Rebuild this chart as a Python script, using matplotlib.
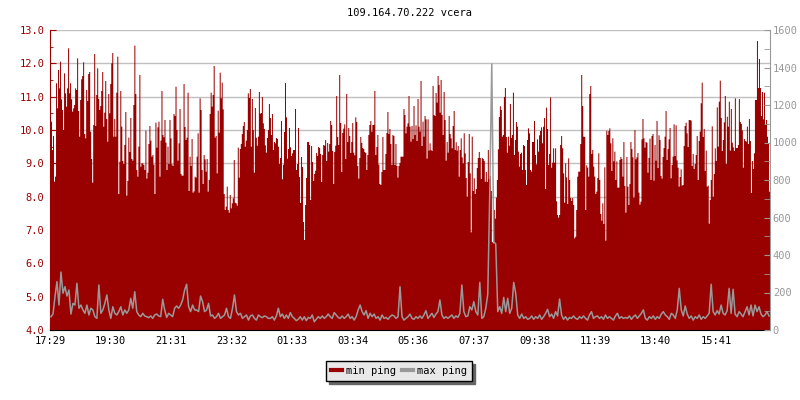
import numpy as np
import matplotlib
matplotlib.use("Agg")
import matplotlib.pyplot as plt
from matplotlib.lines import Line2D
from matplotlib.ticker import MultipleLocator, FormatStrFormatter

title = "109.164.70.222 vcera"

# minutes after 17:29, one day on the axis
span_minutes = 1440
tick_minutes = [0, 121, 242, 363, 484, 605, 727, 848, 969, 1090, 1211, 1332]
tick_labels = ["17:29", "19:30", "21:31", "23:32", "01:33", "03:34",
               "05:36", "07:37", "09:38", "11:39", "13:40", "15:41"]

# min ping (left axis), one sample per ~2 minutes
min_ping = [
    8.70, 10.25, 9.40, 9.82, 8.45, 8.60, 11.40, 10.65, 11.80, 11.25, 12.05, 10.92, 10.60, 10.00, 11.70,
    11.10, 10.70, 11.25, 12.45, 11.10, 11.40, 10.92, 10.55, 10.65, 10.75, 11.25, 11.20, 12.15, 10.57, 9.80,
    10.90, 11.52, 11.62, 12.03, 9.88, 9.75, 11.20, 10.87, 11.68, 11.74, 9.95, 9.13, 8.42, 10.15, 12.28,
    10.12, 11.05, 11.85, 10.93, 10.60, 10.72, 11.17, 11.74, 10.10, 10.52, 11.47, 10.33, 9.65, 11.08, 10.50,
    11.38, 12.00, 12.31, 9.80, 10.33, 9.80, 11.12, 12.20, 8.08, 9.05, 11.17, 10.10, 9.07, 8.98, 9.55,
    10.54, 8.03, 8.47, 9.77, 9.34, 10.36, 9.13, 9.08, 10.75, 12.53, 11.08, 8.80, 8.60, 9.50, 11.65,
    8.90, 9.00, 9.00, 8.95, 8.80, 9.98, 8.54, 8.72, 9.58, 10.12, 9.68, 9.20, 9.25, 8.96, 8.08,
    10.22, 9.47, 10.08, 10.25, 8.60, 9.68, 11.17, 9.85, 9.78, 10.30, 9.62, 8.80, 9.50, 8.98, 10.30,
    9.75, 8.97, 8.92, 10.48, 10.42, 11.30, 10.00, 9.08, 9.60, 10.63, 8.68, 8.63, 8.63, 11.38, 10.09,
    9.70, 9.77, 11.12, 8.17, 9.20, 8.92, 9.73, 8.12, 8.16, 8.60, 8.57, 9.20, 9.90, 8.12, 10.95,
    10.60, 8.80, 8.38, 9.25, 9.12, 8.75, 9.13, 8.15, 8.50, 10.48, 11.12, 10.70, 11.05, 11.92, 9.77,
    9.82, 8.70, 10.58, 9.92, 11.72, 10.95, 11.42, 10.62, 8.08, 7.60, 7.70, 8.30,
    7.60, 7.52, 8.05, 7.65, 7.80, 7.95, 9.10, 7.82, 7.80, 7.73, 9.47, 8.57, 9.43, 9.58, 9.88,
    10.12, 10.24, 9.50, 9.68, 10.00, 11.10, 10.96, 11.23, 9.50, 10.93, 10.00, 8.72, 10.66, 9.77, 9.53,
    9.80, 11.14, 10.49, 10.51, 10.99, 10.20, 10.03, 9.54, 9.32, 9.76, 10.00, 10.78, 10.36, 9.85, 10.48,
    9.40, 9.64, 9.60, 9.76, 9.73, 9.50, 8.98, 9.16, 10.27, 8.52, 8.96, 9.94, 11.41, 10.38, 9.14,
    9.43, 10.06, 9.48, 9.22, 9.30, 9.40, 9.40, 10.63, 8.80, 8.98, 10.06, 8.59, 7.81, 9.19, 8.89,
    7.24, 6.70, 7.75, 8.56, 9.64, 9.64, 9.55, 7.90, 9.52, 9.04, 8.47, 8.68, 8.78, 9.31, 9.22,
    9.49, 9.46, 9.28, 8.44, 9.25, 9.55, 9.53, 9.70, 9.07, 9.61, 9.35, 9.58, 10.27, 10.15, 9.37,
    8.38, 9.34, 9.53, 11.02, 9.79, 9.55, 11.65, 10.21, 8.74, 9.91, 10.04, 10.17, 9.13, 11.08, 9.64,
    10.06, 9.82, 9.31, 9.64, 10.21, 9.32, 9.24, 10.38, 10.24, 8.92, 8.54, 9.16, 9.79, 9.61, 9.46,
    9.43, 9.34, 9.31, 8.80, 9.25, 9.85, 10.15, 10.27, 9.95, 10.15, 10.15, 11.17, 9.25, 9.49, 9.85,
    8.96, 8.38, 8.35, 8.74, 9.79, 8.80, 8.80, 9.28, 9.91, 10.54, 9.88, 10.03, 9.58, 8.95, 9.85,
    9.82, 8.95, 9.58, 8.92, 8.57, 8.92, 9.01, 9.20, 9.20, 9.20, 10.63, 10.45, 9.90, 10.10, 10.20,
    11.02, 10.10, 9.65, 10.12, 9.73, 10.72, 9.85, 10.14, 9.67, 10.93, 10.10, 9.95, 11.47, 9.52, 10.25,
    9.80, 10.42, 10.32, 9.14, 10.32, 9.38, 9.60, 9.40, 9.37, 11.32, 10.45, 10.42, 11.11, 10.82, 11.62,
    11.35, 10.52, 11.50, 10.45, 9.85, 11.14, 10.30, 9.08, 9.64, 9.32, 10.42, 9.88, 9.75, 9.45, 10.12,
    10.57, 9.40, 9.63, 9.38, 9.52, 8.60, 9.40, 9.75, 9.18, 9.00, 9.90, 9.30, 8.56, 8.00, 9.04,
    9.88, 8.70, 6.93, 9.80, 8.17, 8.55, 8.08, 8.23, 8.86, 9.16, 9.34, 9.16, 8.53, 9.16, 9.13,
    9.07, 8.45, 8.74, 8.44, 9.40, 8.53, 8.62, 8.17, 6.64, 6.60, 7.60, 7.34, 7.97, 8.50, 9.42,
    10.39, 10.71, 10.60, 9.80, 9.85, 10.99, 11.26, 9.79, 9.32, 9.80, 9.53, 10.78, 9.76, 9.85, 11.12,
    9.25, 9.70, 10.24, 10.10, 9.35, 8.90, 9.28, 9.32, 8.80, 9.55, 9.52, 8.80, 8.35, 9.70, 10.05,
    9.90, 8.80, 8.75, 9.64, 9.64, 10.27, 9.25, 8.97, 9.72, 9.35, 9.84, 9.97, 10.08, 9.60, 10.10,
    10.36, 8.23, 10.67, 10.03, 8.95, 9.28, 10.98, 8.87, 9.02, 9.45, 9.02, 9.45, 7.86, 7.45, 7.37,
    7.45, 9.55, 9.82, 9.45, 8.70, 7.82, 9.00, 8.58, 7.78, 9.15, 8.50, 7.96, 7.87, 7.96, 7.75,
    6.75, 6.80, 7.60, 8.60, 8.75, 8.75, 9.58, 11.65, 10.72, 9.80, 9.79, 7.60, 8.94, 8.87, 8.60,
    11.08, 11.32, 9.28, 9.40, 8.90, 8.60, 8.08, 8.15, 8.56, 9.30, 8.50, 7.48, 7.28, 7.80, 7.18,
    8.88, 6.68, 9.98, 9.85, 9.97, 10.05, 9.60, 8.77, 9.75, 9.06, 9.35, 8.50, 9.06, 8.27, 8.27,
    9.10, 9.19, 9.13, 8.60, 9.64, 8.32, 7.52, 9.19, 8.30, 7.75, 8.38, 9.64, 9.43, 9.18, 7.97,
    10.00, 9.12, 9.18, 9.31, 8.12, 7.76, 7.85, 9.72, 10.33, 9.75, 9.47, 9.64, 9.62, 8.72, 9.16,
    9.74, 8.50, 9.82, 9.88, 8.48, 9.55, 9.08, 10.27, 8.86, 9.84, 9.70, 8.62, 8.54, 9.19, 9.46,
    9.80, 10.57, 9.10, 9.43, 9.72, 10.06, 8.55, 8.95, 9.20, 10.17, 9.22, 10.14, 9.09, 8.87, 8.30,
    8.59, 8.82, 8.33, 8.35, 9.52, 10.12, 10.22, 9.90, 9.49, 10.30, 10.30, 10.28, 8.92, 9.28, 8.83,
    8.98, 9.25, 9.82, 8.50, 9.67, 9.95, 10.80, 11.42, 9.79, 10.03, 8.77, 9.38, 8.30, 8.33, 7.19,
    7.90, 8.50, 10.11, 8.00, 8.68, 9.45, 9.07, 10.68, 9.50, 10.85, 11.48, 10.36, 9.37, 9.70, 10.23,
    11.02, 8.98, 10.40, 10.10, 10.85, 9.38, 10.63, 9.62, 9.48, 9.37, 10.95, 9.46, 9.46, 9.55, 10.93,
    10.24, 10.18, 9.99, 8.87, 9.73, 9.67, 9.65, 10.10, 9.58, 10.33, 9.67, 8.11, 9.07, 8.83, 9.30,
    10.90, 10.90, 12.67, 11.26, 12.13, 11.26, 10.42, 11.14, 10.32, 11.12, 10.17, 10.30, 9.80, 9.60, 8.15,
]

# max ping (right axis), one sample per ~4 minutes
max_ping = [
    71, 85, 178, 258, 133, 309, 196, 231, 181, 213, 85, 142, 133, 249, 116, 133, 107, 89, 133, 80,
    116, 107, 71, 62, 240, 89, 107, 142, 187, 107, 62, 124, 89, 80, 98, 124, 80, 107, 89, 107,
    169, 116, 204, 98, 80, 71, 89, 75, 71, 66, 75, 62, 80, 85, 75, 71, 164, 107, 67, 89,
    80, 71, 116, 128, 116, 133, 160, 213, 244, 124, 98, 133, 107, 107, 98, 181, 151, 98, 107, 142,
    75, 80, 62, 71, 89, 62, 71, 80, 116, 71, 62, 116, 187, 98, 80, 89, 62, 71, 80, 53,
    75, 80, 62, 53, 80, 71, 66, 75, 71, 62,
    62, 71, 53, 75, 116, 71, 85, 62, 80, 62, 93, 71, 62, 50, 57, 71, 53, 71, 50, 67,
    62, 80, 44, 57, 71, 62, 75, 62, 71, 85, 71, 62, 93, 80, 67, 62, 75, 62, 71, 85,
    62, 71, 53, 71, 107, 133, 98, 80, 103, 62, 89, 71, 85, 62, 71, 53, 80, 62, 67, 57,
    71, 80, 75, 62, 71, 231, 71, 53, 62, 71, 85, 62, 57, 71, 62, 75, 62, 80, 103, 62,
    75, 89, 67, 85, 98, 160, 80, 62, 71, 62, 71, 80, 62, 75, 67, 89, 240, 98, 71, 75,
    124, 107, 151, 98, 80, 254, 62, 71, 116, 192, 741, 1419, 471, 459, 98, 124, 89, 174, 98, 169,
    89, 116, 254, 196, 80, 62, 85, 62, 71, 57,
    62, 75, 57, 71, 62, 80, 57, 71, 89, 110, 71, 85, 62, 98, 75, 165, 80, 57, 71, 53,
    67, 62, 75, 62, 57, 71, 62, 75, 62, 53, 80, 98, 62, 71, 75, 62, 71, 57, 80, 62,
    71, 62, 53, 75, 89, 62, 71, 62, 67, 62, 75, 57, 71, 80, 62, 75, 89, 107, 62, 53,
    71, 62, 75, 57, 71, 62, 85, 98, 80, 71, 57, 89, 80, 62, 107, 222, 107, 75, 128, 85,
    62, 75, 53, 71, 62, 80, 57, 71, 62, 75, 89, 244, 98, 80, 103, 85, 133, 89, 80, 103,
    222, 89, 217, 85, 71, 98, 85, 71, 98, 124, 80, 133, 75, 133, 98, 124, 85, 71, 80, 98,
    75,
]

RED = "#990000"
GREY = "#999999"
FONT = "DejaVu Sans Mono"

plt.rcParams["font.family"] = FONT
plt.rcParams["font.size"] = 7.5

fig = plt.figure(figsize=(8, 4), dpi=100)
ax = fig.add_axes([50 / 800, 70 / 400, 720 / 800, 300 / 400])
ax2 = ax.twinx()

edges_min = np.linspace(0, span_minutes, len(min_ping) + 1)
step_max = span_minutes / len(max_ping)
x_max = (np.arange(len(max_ping)) + 0.5) * step_max

ax.stairs(min_ping, edges_min, baseline=4.0, fill=True, color=RED, lw=0, zorder=2)
ax2.plot(x_max, max_ping, color=GREY, lw=1.1, zorder=3)

ax.set_xlim(0, span_minutes)
ax.set_ylim(4.0, 13.0)
ax2.set_ylim(0, 1600)

ax.set_axisbelow(True)
ax.yaxis.set_major_locator(MultipleLocator(1.0))
ax.yaxis.set_minor_locator(MultipleLocator(0.5))
ax.yaxis.set_major_formatter(FormatStrFormatter("%.1f"))
ax.grid(axis="y", color="#c0c0c0", lw=1.0)
ax.set_xticks(tick_minutes)
ax.set_xticklabels(tick_labels)

ax2.yaxis.set_major_locator(MultipleLocator(200))
ax2.yaxis.set_minor_locator(MultipleLocator(100))

ax.tick_params(axis="y", which="both", direction="in", colors=RED, labelcolor=RED)
ax.tick_params(axis="y", which="major", length=4, pad=4)
ax.tick_params(axis="y", which="minor", length=2.5)
ax.tick_params(axis="x", direction="in", length=4, color="black", pad=4)
ax2.tick_params(axis="y", which="both", direction="in", colors=GREY, labelcolor=GREY)
ax2.tick_params(axis="y", which="major", length=4, pad=2)
ax2.tick_params(axis="y", which="minor", length=4)

for a in (ax, ax2):
    a.spines["top"].set_visible(False)
ax.spines["left"].set_color(RED)
ax.spines["right"].set_visible(False)
ax.spines["bottom"].set_color("black")
ax2.spines["left"].set_visible(False)
ax2.spines["bottom"].set_visible(False)
ax2.spines["right"].set_color(GREY)

fig.text(410 / 800, 1 - 13 / 400, title, ha="center", va="center", fontsize=7.5)

handles = [Line2D([], [], color=RED, lw=3), Line2D([], [], color=GREY, lw=3)]
leg = fig.legend(handles, ["min ping", "max ping"], loc="center",
                 bbox_to_anchor=(399 / 800, 1 - 371 / 400), ncol=2,
                 frameon=True, fancybox=False, shadow={"color": "#666666", "alpha": 1},
                 edgecolor="black", facecolor="#e8e8e8", framealpha=1,
                 handlelength=1.0, handletextpad=0.4, columnspacing=0.6,
                 borderpad=0.5, fontsize=7.5)
leg.get_frame().set_linewidth(1.0)

fig.savefig("out.png", dpi=100)
